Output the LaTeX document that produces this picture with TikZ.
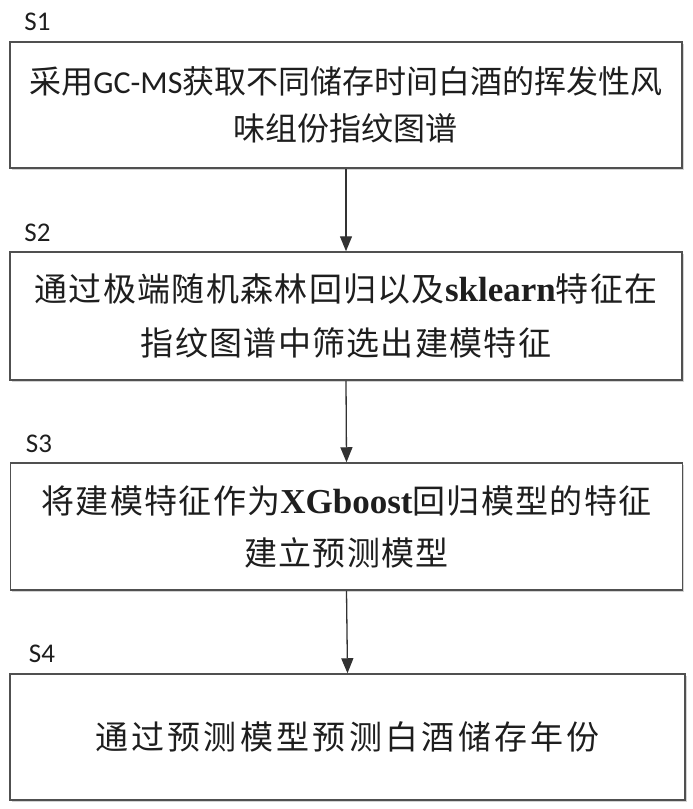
\documentclass[tikz,border=0pt]{standalone}
\usepackage{fontspec}
\setmainfont{Liberation Serif}
\newfontfamily\cjk{Noto Sans CJK SC}
\newfontfamily\cjksp[LetterSpace=4]{Noto Sans CJK SC}
\newfontfamily\cjkwide[LetterSpace=10]{Noto Sans CJK SC}
\newfontfamily\carl{Carlito}
\newcommand{\latinbig}{\bfseries\fontsize{35}{40}\selectfont}
\usetikzlibrary{arrows.meta,shadows}
\definecolor{boxline}{RGB}{80,80,80}
\definecolor{txt}{RGB}{30,30,30}
\definecolor{arrowc}{RGB}{50,50,50}
\tikzset{
  stepbox/.style={draw=boxline, line width=1.5pt, fill=white,
    minimum width=672pt, inner sep=0pt, align=center, text=txt,
    drop shadow={shadow xshift=1.5pt, shadow yshift=-1.5pt, opacity=0.35, fill=gray}},
  steplabel/.style={text=txt, inner sep=0pt},
  flow/.style={draw=arrowc, line width=1.3pt, -{Triangle[length=15pt,width=12pt]}}
}
\begin{document}
\begin{tikzpicture}[x=1pt,y=1pt]
\useasboundingbox (0,0) rectangle (693,-809);
\node[steplabel] (s1) at (37.5,-22) {\carl\fontsize{27}{30}\selectfont S1};
\node[steplabel] (s2) at (37.5,-233) {\carl\fontsize{27}{30}\selectfont S2};
\node[steplabel] (s3) at (39,-444) {\carl\fontsize{27}{30}\selectfont S3};
\node[steplabel] (s4) at (42,-654) {\carl\fontsize{27}{30}\selectfont S4};
\node[stepbox, minimum height=126pt, font=\fontsize{32}{47}\selectfont] (b1) at (346,-105)
  {{\cjk 采用}{\carl GC-MS}{\cjk 获取不同储存时间白酒的挥发性风}\\{\cjk 味组份指纹图谱}};
\node[stepbox, minimum height=128pt, font=\fontsize{33}{54}\selectfont] (b2) at (346,-316)
  {{\cjksp 通过极端随机森林回归以及}{\latinbig sklearn}{\cjksp 特征在}\\{\cjksp 指纹图谱中筛选出建模特征}};
\node[stepbox, minimum height=127pt, font=\fontsize{33}{52}\selectfont] (b3) at (346.5,-526.5)
  {{\cjksp 将建模特征作为}{\latinbig XGboost}{\cjksp 回归模型的特征}\\{\cjksp 建立预测模型}};
\node[stepbox, minimum height=126pt, minimum width=675pt, font=\fontsize{33}{40}\selectfont] (b4) at (347.5,-737)
  {{\cjkwide 通过预测模型预测白酒储存年份}};
\draw[flow] (b1.south) -- (b2.north);
\draw[flow] (b2.south) -- (b3.north);
\draw[flow] (b3.south) -- (b4.north);
\end{tikzpicture}
\end{document}
